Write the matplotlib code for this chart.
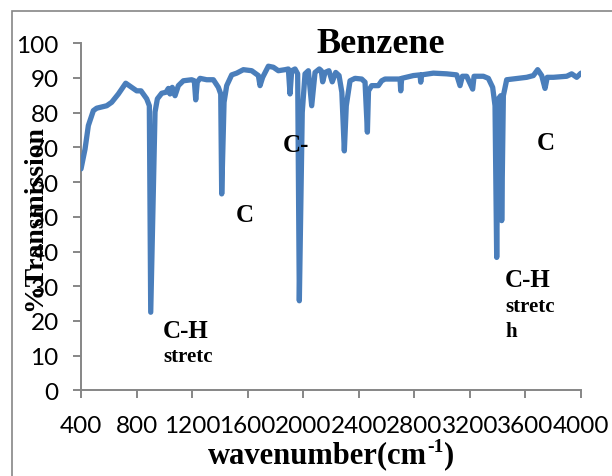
import matplotlib
matplotlib.use('Agg')
import matplotlib.pyplot as plt
from matplotlib.patches import Rectangle

# IR spectrum of benzene
wavenumber = [400, 429, 453, 489, 513, 585, 621, 669, 722, 765, 801, 832, 873, 892,
              902, 933, 950, 981, 1012, 1029, 1041, 1057, 1077, 1101, 1137, 1197, 1216,
              1226, 1237, 1257, 1305, 1353, 1389, 1406, 1413, 1430, 1449, 1485, 1521,
              1569, 1629, 1677, 1689, 1708, 1749, 1785, 1821, 1869, 1893, 1905, 1917,
              1941, 1960, 1972, 1993, 2013, 2037, 2061, 2085, 2116, 2130, 2140, 2157,
              2185, 2209, 2234, 2258, 2278, 2296, 2310, 2337, 2373, 2421, 2445, 2462,
              2470, 2493, 2541, 2565, 2589, 2697, 2702, 2709, 2793, 2841, 2846, 2853,
              2937, 3033, 3105, 3129, 3146, 3177, 3220, 3230, 3297, 3333, 3364, 3381,
              3393, 3405, 3422, 3429, 3441, 3465, 3609, 3657, 3688, 3717, 3741, 3757,
              3801, 3897, 3933, 3969, 4000]
transmission = [63.8, 69.5, 76.3, 80.6, 81.3, 82.0, 83.0, 85.4, 88.5, 87.3, 86.3, 86.3, 84.0, 82.0,
                22.5, 80.2, 84.0, 85.6, 85.9, 87.0, 85.4, 87.3, 84.9, 87.8, 89.2, 89.5, 89.2,
                83.7, 88.8, 89.9, 89.5, 89.5, 87.3, 85.4, 56.6, 83.0, 87.8, 90.9, 91.4,
                92.4, 92.1, 90.7, 87.8, 90.2, 93.4, 93.1, 92.1, 92.4, 92.6, 85.4, 92.1,
                92.6, 91.2, 25.8, 80.1, 91.2, 92.1, 82.0, 91.6, 92.6, 92.1, 88.9, 91.6,
                92.1, 88.9, 91.6, 90.7, 85.9, 69.0, 82.0, 89.2, 89.9, 89.7, 88.8, 74.4,
                86.3, 87.8, 87.8, 89.2, 89.7, 89.7, 86.3, 89.9, 90.7, 90.9, 88.8, 90.9,
                91.4, 91.2, 90.9, 87.8, 90.5, 90.5, 86.8, 90.5, 90.5, 89.9, 87.3, 82.0,
                38.3, 84.0, 84.9, 48.9, 84.9, 89.5, 90.2, 90.7, 92.4, 90.7, 87.0, 90.2,
                90.2, 90.5, 91.2, 90.2, 91.4]

xticks = [400, 800, 1200, 1600, 2000, 2400, 2800, 3200, 3600, 4000]
yticks = [0, 10, 20, 30, 40, 50, 60, 70, 80, 90, 100]

# band labels: (text, wavenumber, %T, size)
labels = [
    ('C-H', 990, 15.5, 18), ('stretc', 990, 8.4, 15),
    ('C', 1516, 48.8, 18), ('C-', 1854, 69.0, 18),
    ('C-H', 3453, 30.0, 18), ('stretc', 3453, 22.9, 15), ('h', 3453, 15.6, 15),
    ('C', 3683, 69.5, 18),
]

SERIF = 'Liberation Serif'
GRAY = '#868686'
LINE = '#4a7ebb'

fig = plt.figure(figsize=(6.12, 4.77), dpi=100)
ax = fig.add_axes([81/612, 1-391.3/477, 500/612, 347/477])

# outer chart frame
fig.patches.append(Rectangle((12/612, -0.1), 1.2, 1-12/477+0.1, transform=fig.transFigure,
                             fill=False, edgecolor=GRAY, linewidth=1.2))

ax.plot(wavenumber, transmission, color=LINE, linewidth=3.8,
        solid_joinstyle='round', solid_capstyle='round', zorder=3)

ax.set_xlim(400, 4000); ax.set_ylim(0, 100)
ax.set_xticks(xticks); ax.set_yticks(yticks)
ax.set_xticklabels([str(t) for t in xticks], family='Lato', fontsize=17.5)
ax.set_yticklabels([str(t) for t in yticks], family='Lato', fontsize=17.5)
ax.tick_params(axis='both', direction='out', length=6, width=1.4, color=GRAY)
ax.tick_params(axis='y', pad=10)
ax.tick_params(axis='x', pad=12)
for s in ['top', 'right']:
    ax.spines[s].set_visible(False)
for s in ['left', 'bottom']:
    ax.spines[s].set_color(GRAY); ax.spines[s].set_linewidth(1.4)

for txt, x, y, sz in labels:
    ax.text(x, y, txt, family=SERIF, fontweight='bold', fontsize=sz, va='baseline', ha='left')

fig.text(381/612, 1-53/477, 'Benzene', family=SERIF, fontweight='bold', fontsize=26,
         ha='center', va='baseline')

# x label with a hyphen superscript, built from three pieces
r = fig.canvas.get_renderer()
base_y = 1 - 463/477
parts = [('wavenumber(cm', 22, 0), ('-1', 14, 11), (')', 22, 0)]
pieces, total = [], 0
for s, sz, dy in parts:
    t = fig.text(0, base_y, s, family=SERIF, fontweight='bold', fontsize=sz, va='baseline')
    w = t.get_window_extent(r).width
    pieces.append((t, dy, w)); total += w
x0 = 331 - total/2
for t, dy, w in pieces:
    t.set_position((x0/612, base_y + dy/477))
    x0 += w

fig.text(35/612, 1-218/477, '%Transmission', family=SERIF, fontweight='bold', fontsize=20,
         rotation=90, ha='center', va='center')

plt.savefig('out.png', dpi=100)
plt.close()
